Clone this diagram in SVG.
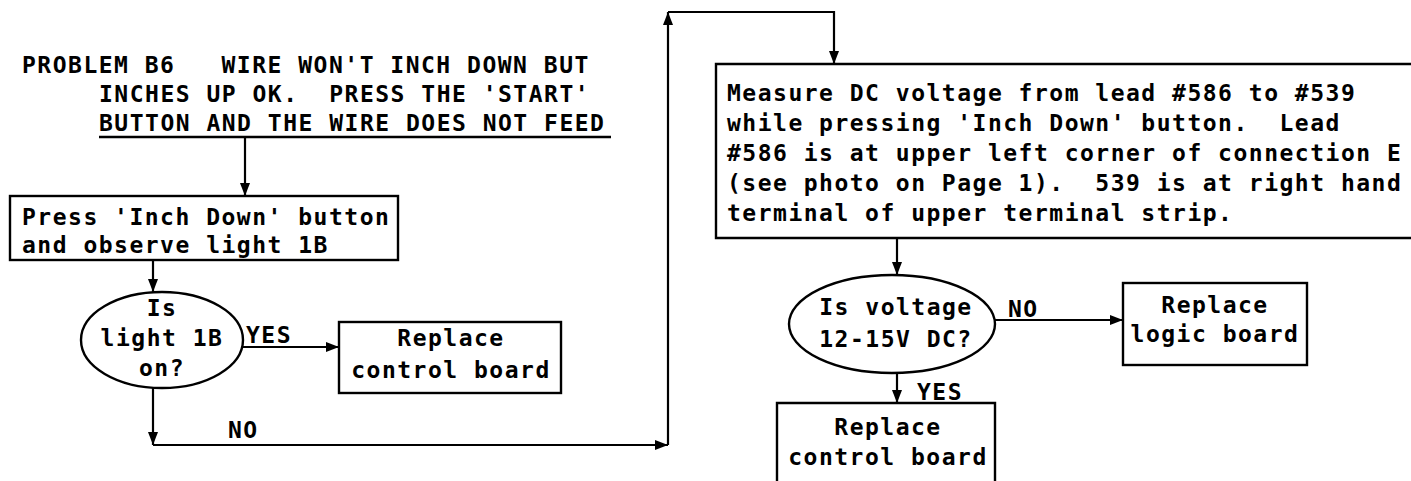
<svg xmlns="http://www.w3.org/2000/svg" width="1411" height="481" viewBox="0 0 1411 481">
<style>
text{font-family:"DejaVu Sans Mono","Liberation Mono",monospace;font-size:23px;font-weight:bold;letter-spacing:1.5px;fill:#000;white-space:pre}
.c{text-anchor:middle}
.box{fill:none;stroke:#000;stroke-width:2.4}
.ln{fill:none;stroke:#000;stroke-width:2.4}
.cn{fill:none;stroke:#000;stroke-width:2.2;marker-end:url(#ah)}
</style>
<defs>
<marker id="ah" markerUnits="userSpaceOnUse" markerWidth="14" markerHeight="10" refX="13" refY="5" orient="auto">
<path d="M0,0 L13,5 L0,10 z" fill="#000"/>
</marker>
</defs>
<rect width="1411" height="481" fill="#fff"/>
<g id="title">
<text x="22" y="73" xml:space="preserve">PROBLEM B6   WIRE WON'T INCH DOWN BUT</text>
<text x="99" y="102" xml:space="preserve">INCHES UP OK.  PRESS THE 'START'</text>
<text x="99" y="131">BUTTON AND THE WIRE DOES NOT FEED</text>
<line class="ln" x1="99" y1="137" x2="611" y2="137"/>
</g>
<g id="press">
<rect class="box" x="10" y="196" width="388" height="64"/>
<text x="22" y="225">Press 'Inch Down' button</text>
<text x="22" y="253">and observe light 1B</text>
</g>
<g id="light">
<ellipse class="box" cx="162" cy="340" rx="81" ry="48"/>
<text class="c" x="162" y="316">Is</text>
<text class="c" x="162" y="346">light 1B</text>
<text class="c" x="162" y="376">on?</text>
</g>
<g id="ctrl1">
<rect class="box" x="339" y="322" width="222" height="71"/>
<text class="c" x="451" y="346">Replace</text>
<text class="c" x="451" y="378">control board</text>
</g>
<g id="measure">
<path class="box" d="M1420,64 H716 V238 H1420"/>
<text x="727" y="101">Measure DC voltage from lead #586 to #539</text>
<text x="727" y="131" xml:space="preserve">while pressing 'Inch Down' button.  Lead</text>
<text x="727" y="161">#586 is at upper left corner of connection E</text>
<text x="727" y="191" xml:space="preserve">(see photo on Page 1).  539 is at right hand</text>
<text x="727" y="221">terminal of upper terminal strip.</text>
</g>
<g id="voltage">
<ellipse class="box" cx="892" cy="324" rx="103" ry="49"/>
<text class="c" x="896" y="315">Is voltage</text>
<text class="c" x="896" y="347">12-15V DC?</text>
</g>
<g id="logic">
<rect class="box" x="1123" y="283" width="184" height="82"/>
<text class="c" x="1215" y="313">Replace</text>
<text class="c" x="1215" y="342">logic board</text>
</g>
<g id="ctrl2">
<path class="box" d="M777,490 V403 H995 V490"/>
<text class="c" x="888" y="435">Replace</text>
<text class="c" x="888" y="465">control board</text>
</g>
<g id="connectors">
<path class="cn" d="M245,137 V196"/>
<path class="cn" d="M153,260 V292"/>
<path class="cn" d="M243,347 H339"/>
<path class="cn" d="M153,388 V445"/>
<path class="cn" d="M153,445 H668"/>
<path class="cn" d="M668,445 V12"/>
<path class="cn" d="M668,12 H834 V64"/>
<path class="cn" d="M897,238 V275"/>
<path class="cn" d="M995,320 H1123"/>
<path class="cn" d="M897,373 V403"/>
<text x="246" y="343">YES</text>
<text x="228" y="438">NO</text>
<text x="1008" y="317">NO</text>
<text x="917" y="400">YES</text>
</g>
</svg>
